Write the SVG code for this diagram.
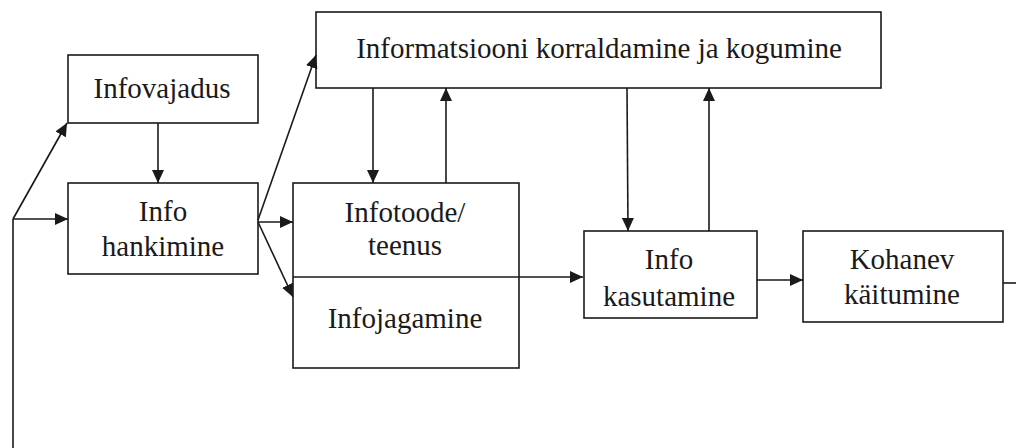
<svg xmlns="http://www.w3.org/2000/svg" width="1016" height="448" viewBox="0 0 1016 448">
<style>
.box{fill:#fff;stroke:#1a1a1a;stroke-width:1.6}
.ln{fill:none;stroke:#1a1a1a;stroke-width:1.6}
text{font-family:"Liberation Serif","Times New Roman",serif;font-size:29px;fill:#1a1a1a;text-anchor:middle}
</style>
<defs>
<marker id="ah" markerUnits="userSpaceOnUse" markerWidth="14" markerHeight="12" refX="13" refY="6" orient="auto">
<path d="M0,0 L13,6 L0,12 z" fill="#1a1a1a"/>
</marker>
</defs>
<rect width="1016" height="448" fill="#fff"/>
<g id="n-infovajadus"><rect class="box" x="68" y="55" width="190" height="68"/><text x="162" y="98">Infovajadus</text></g>
<g id="n-hankimine"><rect class="box" x="68" y="183" width="190" height="91"/><text x="163" y="221">Info</text><text x="163" y="256">hankimine</text></g>
<g id="n-korraldamine"><rect class="box" x="316" y="12" width="565" height="76"/><text x="599" y="58">Informatsiooni korraldamine ja kogumine</text></g>
<g id="n-infotoode"><rect class="box" x="293" y="183" width="226" height="185"/><text x="405" y="222">Infotoode/</text><text x="405" y="255">teenus</text><text x="405" y="328">Infojagamine</text></g>
<g id="n-kasutamine"><rect class="box" x="584" y="231" width="173" height="87"/><text x="669" y="269">Info</text><text x="669" y="306">kasutamine</text></g>
<g id="n-kohanev"><rect class="box" x="803" y="231" width="200" height="91"/><text x="902" y="269">Kohanev</text><text x="902" y="304">käitumine</text></g>
<g id="connectors">
<path class="ln" d="M13,448 L13,219"/>
<path class="ln" d="M13,219 L67,123" marker-end="url(#ah)"/>
<path class="ln" d="M13,219 L68,219" marker-end="url(#ah)"/>
<path class="ln" d="M158,123 L158,183" marker-end="url(#ah)"/>
<path class="ln" d="M258,220 L316,55" marker-end="url(#ah)"/>
<path class="ln" d="M258,222 L293,222" marker-end="url(#ah)"/>
<path class="ln" d="M258,222 L293,297" marker-end="url(#ah)"/>
<path class="ln" d="M373,88 L373,183" marker-end="url(#ah)"/>
<path class="ln" d="M446,183 L446,88" marker-end="url(#ah)"/>
<path class="ln" d="M293,277 L583,277" marker-end="url(#ah)"/>
<path class="ln" d="M627,88 L628,231" marker-end="url(#ah)"/>
<path class="ln" d="M709,231 L709,88" marker-end="url(#ah)"/>
<path class="ln" d="M757,280 L803,280" marker-end="url(#ah)"/>
<path class="ln" d="M1003,283 L1016,283"/>
</g>
</svg>
